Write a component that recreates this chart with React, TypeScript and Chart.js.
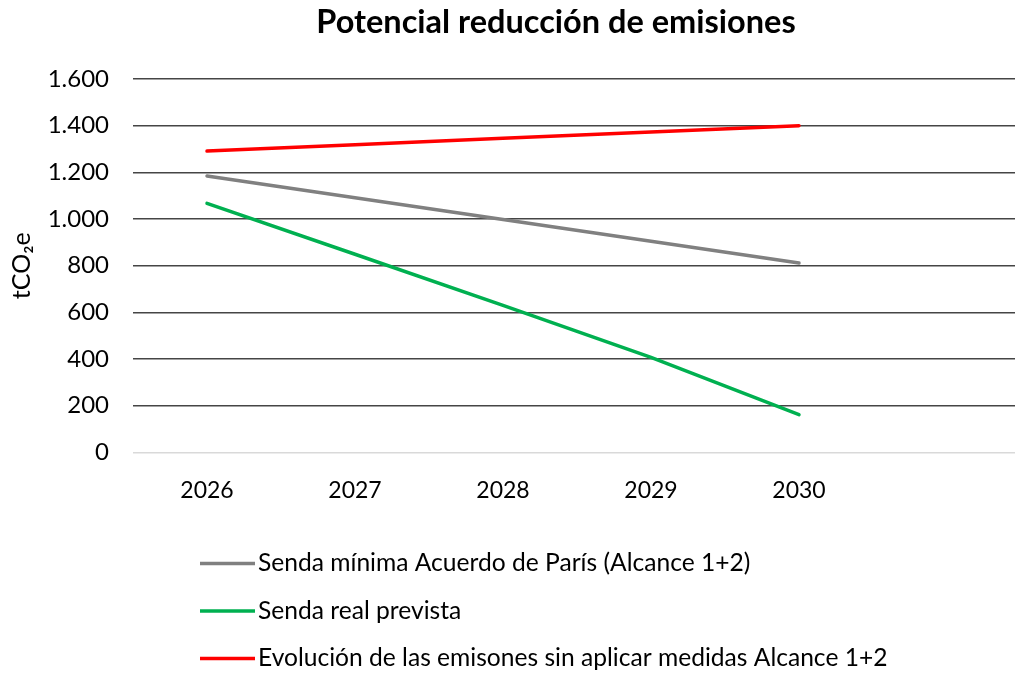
import React, { useEffect, useRef } from "react";
import { Chart, registerables } from "chart.js";

Chart.register(...registerables);

const years = ["2026", "2027", "2028", "2029", "2030", ""];
const minParisPath = [1184, 1091, 998, 905, 812, null];
const realPath = [1067, 849, 630, 407, 162, null];
const noMeasuresPath = [1291, 1318, 1346, 1373, 1400, null];
const seriesLabels = [
  "Senda mínima Acuerdo de París (Alcance 1+2)",
  "Senda real prevista",
  "Evolución de las emisones sin aplicar medidas Alcance 1+2",
];
const seriesColors = ["#808080", "#00B050", "#FF0000"];
const yTicks = [0, 200, 400, 600, 800, 1000, 1200, 1400, 1600];

const FONT = 'Lato, "Open Sans", "Noto Sans", sans-serif';

const stackedLegend = {
  id: "stackedLegend",
  afterDraw(chart: any) {
    const ctx = chart.ctx;
    const base = chart.chartArea.bottom + 111;
    ctx.save();
    ctx.font = `24.6px ${FONT}`;
    ctx.textBaseline = "middle";
    ctx.textAlign = "left";
    chart.data.datasets.forEach((ds: any, i: number) => {
      const y = base + i * 47.5;
      ctx.strokeStyle = ds.borderColor;
      ctx.lineWidth = 3.5;
      ctx.lineCap = "butt";
      ctx.beginPath();
      ctx.moveTo(200, y);
      ctx.lineTo(255, y);
      ctx.stroke();
      ctx.fillStyle = "#000";
      ctx.fillText(ds.label, 258, y);
    });
    ctx.restore();
  },
};

export default function App() {
  const ref = useRef<HTMLCanvasElement>(null);

  useEffect(() => {
    document.body.style.margin = "0";
    const canvas = ref.current!;
    const chart = new Chart(canvas, {
      type: "line",
      data: {
        labels: years,
        datasets: [minParisPath, realPath, noMeasuresPath].map((d, i) => ({
          label: seriesLabels[i],
          data: d,
          borderColor: seriesColors[i],
          backgroundColor: seriesColors[i],
          borderWidth: 3.5,
          borderCapStyle: "round" as const,
          pointRadius: 0,
          tension: 0,
          spanGaps: false,
          yAxisID: "y",
        })),
      },
      options: {
        responsive: false,
        animation: false,
        devicePixelRatio: 1,
        layout: { padding: { top: 0, right: 0, bottom: 145, left: 0 } },
        plugins: {
          legend: { display: false },
          tooltip: { enabled: false },
          title: {
            display: true,
            text: "Potencial reducción de emisiones",
            color: "#000",
            font: { family: FONT, size: 32.5, weight: "bold", lineHeight: 1.2 },
            padding: { top: 3, bottom: 37 },
          },
        },
        scales: {
          x: {
            type: "category",
            offset: true,
            grid: { display: false, drawTicks: false },
            border: { display: false },
            ticks: {
              color: "#000",
              font: { family: FONT, size: 23 },
              padding: 24,
              maxRotation: 0,
              autoSkip: false,
            },
          },
          y: {
            min: 0,
            max: 1600,
            afterFit: (scale: any) => {
              scale.width = 133;
            },
            afterBuildTicks: (scale: any) => {
              scale.ticks = yTicks.map((v) => ({ value: v }));
            },
            grid: {
              drawTicks: false,
              lineWidth: 1.5,
              color: (c: any) => (c.tick && c.tick.value === 0 ? "#d9d9d9" : "#454545"),
            },
            border: { display: false },
            ticks: {
              color: "#000",
              font: { family: FONT, size: 24 },
              padding: 24,
              callback: (v: any) => Number(v).toLocaleString("de-DE"),
            },
            title: {
              display: true,
              text: "tCO₂e",
              color: "#000",
              font: { family: FONT, size: 25, lineHeight: 1.2 },
              padding: { top: 7, bottom: 0 },
            },
          },
          yPad: {
            position: "right",
            display: true,
            grid: { display: false, drawTicks: false },
            border: { display: false },
            ticks: { display: false },
            afterFit: (scale: any) => {
              scale.width = 91;
            },
          },
        },
      },
      plugins: [stackedLegend],
    });
    return () => chart.destroy();
  }, []);

  return (
    <div style={{ width: 1015, height: 673, overflow: "hidden", background: "#fff" }}>
      <canvas
        ref={ref}
        width={1112}
        height={673}
        style={{ width: 1112, height: 673, display: "block" }}
      />
    </div>
  );
}
